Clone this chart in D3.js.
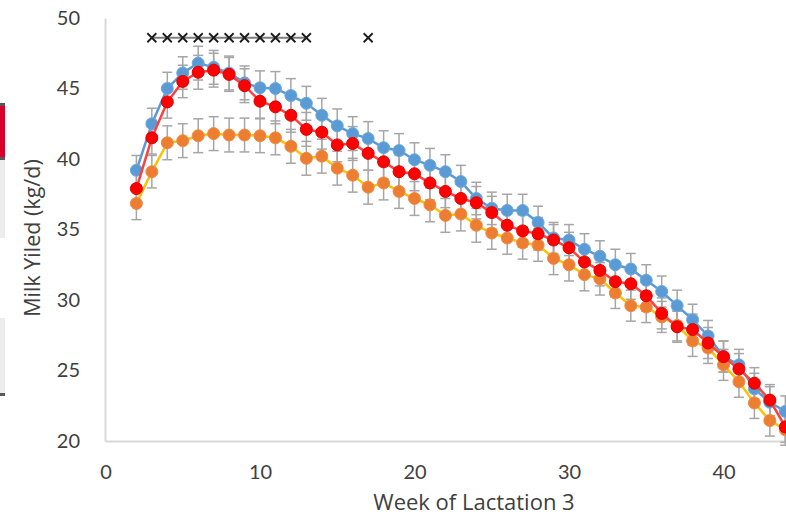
<!DOCTYPE html>
<html>
<head>
<meta charset="utf-8">
<script src="https://cdn.jsdelivr.net/npm/d3@7"></script>
<style>
  body { margin: 0; background: #fff; }
  svg { display: block; font-family: Lato, "Open Sans", sans-serif; }
</style>
</head>
<body>
<svg id="chart" width="786" height="518"></svg>
<script>
// weeks of lactation
let weeks = d3.range(2, 45);

// mean milk yield per series (kg/d)
let blueYield = [39.2, 42.5, 45.0, 46.1, 46.8, 46.5, 46.1, 45.4, 45.05, 45.0,
  44.5, 43.95, 43.1, 42.35, 41.8, 41.45, 40.8, 40.6, 39.95, 39.55,
  39.1, 38.4, 37.2, 36.5, 36.35, 36.35, 35.5, 34.4, 34.25, 33.6,
  33.1, 32.5, 32.2, 31.4, 30.6, 29.6, 28.6, 27.45, 26.0, 25.4,
  23.7, 22.75, 22.1];
let redYield = [37.9, 41.5, 44.05, 45.5, 46.15, 46.3, 46.0, 45.2, 44.1, 43.7,
  43.1, 42.1, 41.9, 41.0, 41.1, 40.4, 39.8, 39.1, 38.95, 38.3,
  37.7, 37.2, 36.9, 36.2, 35.3, 34.9, 34.7, 34.25, 33.7, 32.7,
  32.1, 31.3, 31.15, 30.3, 29.05, 28.1, 27.9, 26.95, 25.98, 25.1,
  24.1, 22.9, 21.0];
let orangeYield = [36.85, 39.1, 41.15, 41.3, 41.65, 41.8, 41.7, 41.7, 41.65, 41.5,
  40.9, 40.05, 40.2, 39.35, 38.85, 38.0, 38.3, 37.7, 37.2, 36.75,
  36.0, 36.1, 35.3, 34.75, 34.4, 34.05, 33.9, 32.95, 32.5, 31.8,
  31.5, 30.5, 29.6, 29.5, 28.8, 28.2, 27.1, 26.6, 25.4, 24.2,
  22.7, 21.45, 20.8];

// standard errors (kg/d)
let blueErr = [1.05, 1.1, 1.15, 1.15, 1.2, 1.2, 1.2, 1.2, 1.2, 1.2,
  1.2, 1.2, 1.2, 1.2, 1.2, 1.2, 1.2, 1.2, 1.2, 1.2,
  1.2, 1.15, 1.15, 1.15, 1.15, 1.15, 1.15, 1.1, 1.1, 1.1,
  1.1, 1.1, 1.1, 1.1, 1.1, 1.1, 1.1, 1.1, 1.1, 1.1,
  1.1, 1.1, 1.1];
let redErr = [1.1, 1.15, 1.15, 1.15, 1.2, 1.2, 1.2, 1.2, 1.2, 1.2,
  1.2, 1.2, 1.2, 1.2, 1.2, 1.2, 1.2, 1.2, 1.2, 1.2,
  1.15, 1.15, 1.15, 1.15, 1.15, 1.15, 1.15, 1.1, 1.1, 1.1,
  1.1, 1.1, 1.1, 1.1, 1.1, 1.1, 1.1, 1.1, 1.1, 1.1,
  1.1, 1.1, 1.1];
let orangeErr = [1.15, 1.15, 1.2, 1.2, 1.2, 1.2, 1.2, 1.2, 1.2, 1.2,
  1.2, 1.2, 1.2, 1.2, 1.2, 1.2, 1.2, 1.2, 1.2, 1.2,
  1.2, 1.2, 1.2, 1.15, 1.15, 1.15, 1.15, 1.15, 1.15, 1.15,
  1.15, 1.1, 1.1, 1.1, 1.1, 1.1, 1.1, 1.1, 1.1, 1.1,
  1.1, 1.1, 1.1];

// weeks flagged as significant, drawn as crosses
let sigWeeks = [3, 4, 5, 6, 7, 8, 9, 10, 11, 12, 13, 17];
let sigLevel = 48.6;

let xTicks = [0, 10, 20, 30, 40];
let yTicks = [20, 25, 30, 35, 40, 45, 50];

let svg = d3.select("#chart");

let x = d3.scaleLinear().domain([0, 50]).range([105.5, 105.5 + 50 * 15.45]);
let y = d3.scaleLinear().domain([20, 50]).range([441, 18]);

// clipped legend strip at the very left edge
svg.append("rect").attr("x", 0).attr("y", 103).attr("width", 5).attr("height", 57).style("fill", "#d7002a");
svg.append("rect").attr("x", 0).attr("y", 103).attr("width", 5).attr("height", 3).style("fill", "#595959");
svg.append("rect").attr("x", 0).attr("y", 157).attr("width", 5).attr("height", 3).style("fill", "#595959");
svg.append("rect").attr("x", 0).attr("y", 160).attr("width", 5).attr("height", 78).style("fill", "#ececec");
svg.append("rect").attr("x", 0).attr("y", 318).attr("width", 5).attr("height", 78).style("fill", "#ececec");
svg.append("rect").attr("x", 0).attr("y", 393).attr("width", 5).attr("height", 3).style("fill", "#595959");

// axes
let yAxis = svg.append("g")
  .attr("transform", "translate(105,0)")
  .call(d3.axisLeft(y).tickValues(yTicks).tickSize(0).tickPadding(25));
let xAxis = svg.append("g")
  .attr("transform", "translate(0,441)")
  .call(d3.axisBottom(x).tickValues(xTicks).tickSize(0).tickPadding(24));

[yAxis, xAxis].forEach(function (a) {
  a.select(".domain").style("stroke", "#d9d9d9").style("stroke-width", 2);
  a.selectAll("text").style("font-size", "20px").style("fill", "#404040")
    .style("font-family", "Lato, 'Open Sans', sans-serif");
});

svg.append("text")
  .attr("transform", "translate(40,238) rotate(-90)")
  .attr("text-anchor", "middle")
  .style("font-family", "'Open Sans', sans-serif")
  .style("font-size", "21.5px")
  .style("fill", "#404040")
  .text("Milk Yiled (kg/d)");

svg.append("text")
  .attr("x", 474)
  .attr("y", 510)
  .attr("text-anchor", "middle")
  .style("font-family", "'Open Sans', sans-serif")
  .style("font-size", "22px")
  .style("fill", "#404040")
  .text("Week of Lactation 3");

let series = [
  { vals: orangeYield, err: orangeErr, line: "#ffc000", fill: "#ed7d31", stroke: "#f08a44" },
  { vals: blueYield, err: blueErr, line: "#5b9bd5", fill: "#5b9bd5", stroke: "#6fa8dc" },
  { vals: redYield, err: redErr, line: "#ff4040", fill: "#ff0000", stroke: "#e00000" }
];

let plot = svg.append("g");

// error bars first
series.forEach(function (s) {
  let pts = weeks.map((w, i) => ({ w: w, v: s.vals[i], e: s.err[i] }));
  let eb = plot.append("g").selectAll("g").data(pts).enter().append("g")
    .style("stroke", "#a6a6a6").style("stroke-width", 1.5);
  eb.append("line")
    .attr("x1", d => x(d.w)).attr("x2", d => x(d.w))
    .attr("y1", d => y(d.v - d.e)).attr("y2", d => y(d.v + d.e));
  eb.append("line")
    .attr("x1", d => x(d.w) - 5).attr("x2", d => x(d.w) + 5)
    .attr("y1", d => y(d.v - d.e)).attr("y2", d => y(d.v - d.e));
  eb.append("line")
    .attr("x1", d => x(d.w) - 5).attr("x2", d => x(d.w) + 5)
    .attr("y1", d => y(d.v + d.e)).attr("y2", d => y(d.v + d.e));
});

let line = d3.line().x(d => x(d.w)).y(d => y(d.v));

series.forEach(function (s) {
  let pts = weeks.map((w, i) => ({ w: w, v: s.vals[i] }));
  plot.append("path")
    .datum(pts)
    .attr("d", line)
    .style("fill", "none")
    .style("stroke", s.line)
    .style("stroke-width", 2.5);
  plot.append("g").selectAll("circle").data(pts).enter().append("circle")
    .attr("cx", d => x(d.w))
    .attr("cy", d => y(d.v))
    .attr("r", 6)
    .style("fill", s.fill)
    .style("stroke", s.stroke)
    .style("stroke-width", 1);
});

// significance crosses, weeks 3-13 joined by a line, week 17 alone
let sigPts = sigWeeks.map(w => ({ w: w, v: sigLevel }));
plot.append("path")
  .datum(sigPts.filter(d => d.w <= 13))
  .attr("d", line)
  .style("fill", "none")
  .style("stroke", "#7f7f7f")
  .style("stroke-width", 2);
plot.append("g").selectAll("path.x").data(sigPts).enter().append("path")
  .attr("class", "x")
  .attr("d", d => {
    let cx = x(d.w), cy = y(d.v), r = 4.5;
    return "M" + (cx - r) + "," + (cy - r) + "L" + (cx + r) + "," + (cy + r) +
      "M" + (cx - r) + "," + (cy + r) + "L" + (cx + r) + "," + (cy - r);
  })
  .style("stroke", "#1a1a1a")
  .style("stroke-width", 1.8);
</script>
</body>
</html>
